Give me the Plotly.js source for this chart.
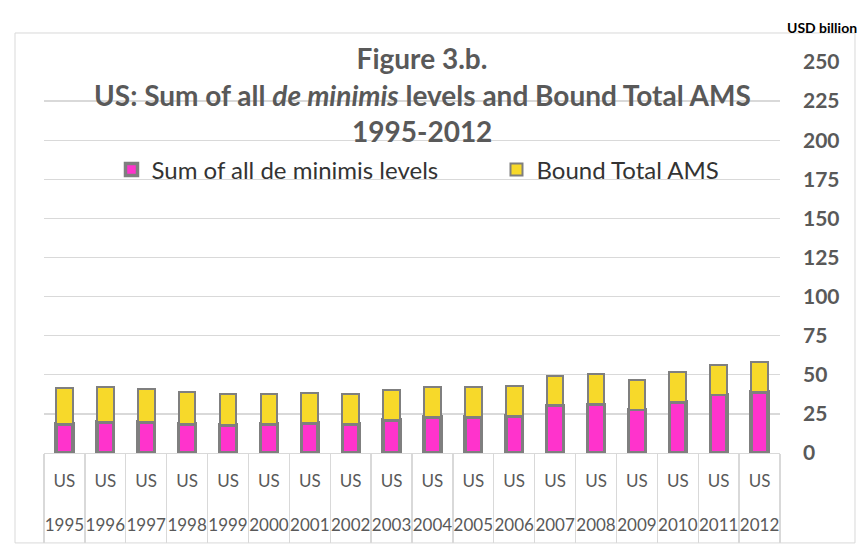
<!DOCTYPE html>
<html>
<head>
<meta charset="utf-8">
<script src="https://cdn.plot.ly/plotly-3.0.1.min.js"></script>
<style>html,body{margin:0;padding:0;background:#fff;}#chart{width:857px;height:544px;}</style>
</head>
<body>
<div id="chart"></div>
<script>
var years = ['1995','1996','1997','1998','1999','2000','2001','2002','2003','2004','2005','2006','2007','2008','2009','2010','2011','2012'];
var countries = ['US','US','US','US','US','US','US','US','US','US','US','US','US','US','US','US','US','US'];
var deMinimis = [18.5, 19.7, 19.7, 18.4, 17.9, 18.4, 19.3, 18.7, 21.0, 22.9, 22.9, 23.8, 30.4, 31.1, 27.7, 32.6, 37.3, 38.9];
var boundAMS = [23.08, 22.29, 21.49, 20.70, 19.90, 19.10, 19.10, 19.10, 19.10, 19.10, 19.10, 19.10, 19.10, 19.10, 19.10, 19.10, 19.10, 19.10];
var yTicks = [0, 25, 50, 75, 100, 125, 150, 175, 200, 225, 250];

// two-level category labels: country on top, year underneath
var xTickText = years.map(function (yr, i) { return countries[i] + '<br><br>' + yr; });

var FONT = 'Lato, "Open Sans", sans-serif';

var traces = [
  {
    type: 'bar', name: 'Sum of all de minimis levels', legend: 'legend',
    x: years, y: deMinimis,
    marker: {color: '#FF33CC', line: {color: '#7F7F7F', width: 3.5}},
    hoverinfo: 'skip'
  },
  {
    type: 'bar', name: 'Bound Total AMS', legend: 'legend2',
    x: years, y: boundAMS,
    marker: {color: '#F7D92A', line: {color: '#7F7F7F', width: 2}},
    hoverinfo: 'skip'
  }
];

var legendFont = {family: FONT, size: 24, color: '#333333'};

var layout = {
  width: 857, height: 544,
  margin: {l: 44, r: 77, t: 62, b: 91},
  paper_bgcolor: '#ffffff', plot_bgcolor: 'rgba(0,0,0,0)',
  barmode: 'stack', bargap: 0.59,
  showlegend: true,
  font: {family: FONT, color: '#595959'},
  title: {
    text: 'Figure 3.b.',
    x: 0.4924, xanchor: 'center', xref: 'container',
    y: 0.8915, yanchor: 'middle', yref: 'container',
    font: {family: FONT, size: 28, color: '#595959', weight: 'bold'}
  },
  legend: {
    orientation: 'h', x: 0.0917, xanchor: 'left', y: 0.724, yanchor: 'middle',
    font: legendFont, bgcolor: 'rgba(0,0,0,0)'
  },
  legend2: {
    orientation: 'h', x: 0.6148, xanchor: 'left', y: 0.724, yanchor: 'middle',
    font: legendFont, bgcolor: 'rgba(0,0,0,0)'
  },
  xaxis: {
    type: 'category', automargin: false,
    tickvals: years, ticktext: xTickText,
    showline: true, linecolor: '#D9D9D9', linewidth: 1.3,
    tickson: 'boundaries', ticks: 'outside', ticklen: 89, tickwidth: 1.3, tickcolor: '#D9D9D9',
    ticklabelstandoff: 12,
    showgrid: false, tickangle: 0,
    tickfont: {family: FONT, size: 17, color: '#595959'}
  },
  yaxis: {
    side: 'right', range: [0, 250], tickvals: yTicks, automargin: false,
    showgrid: true, gridcolor: '#D9D9D9', gridwidth: 1.3,
    zeroline: false, showline: false, ticks: '', ticklabelstandoff: 22,
    tickfont: {family: FONT, size: 21, color: '#595959', weight: 'bold'}
  },
  shapes: [
    {type: 'rect', xref: 'paper', yref: 'paper', x0: -0.0394, x1: 1.1019, y0: -0.230, y1: 1.0742,
     line: {color: '#D9D9D9', width: 1}, fillcolor: 'rgba(0,0,0,0)', layer: 'below'}
  ],
  annotations: [
    {text: 'US: Sum of all <i>de minimis</i> levels and Bound Total AMS', xref: 'paper', yref: 'paper',
     x: 0.5136, y: 0.9156, xanchor: 'center', yanchor: 'middle', showarrow: false,
     font: {family: FONT, size: 28, color: '#595959', weight: 'bold'}},
    {text: '1995-2012', xref: 'paper', yref: 'paper',
     x: 0.5136, y: 0.8235, xanchor: 'center', yanchor: 'middle', showarrow: false,
     font: {family: FONT, size: 28, color: '#595959', weight: 'bold'}},
    {text: 'USD billion', xref: 'paper', yref: 'paper',
     x: 1.057, y: 1.0895, xanchor: 'center', yanchor: 'middle', showarrow: false,
     font: {family: FONT, size: 14, color: '#000000', weight: 'bold'}}
  ]
};

Plotly.newPlot('chart', traces, layout, {staticPlot: true, displayModeBar: false});
</script>
</body>
</html>
